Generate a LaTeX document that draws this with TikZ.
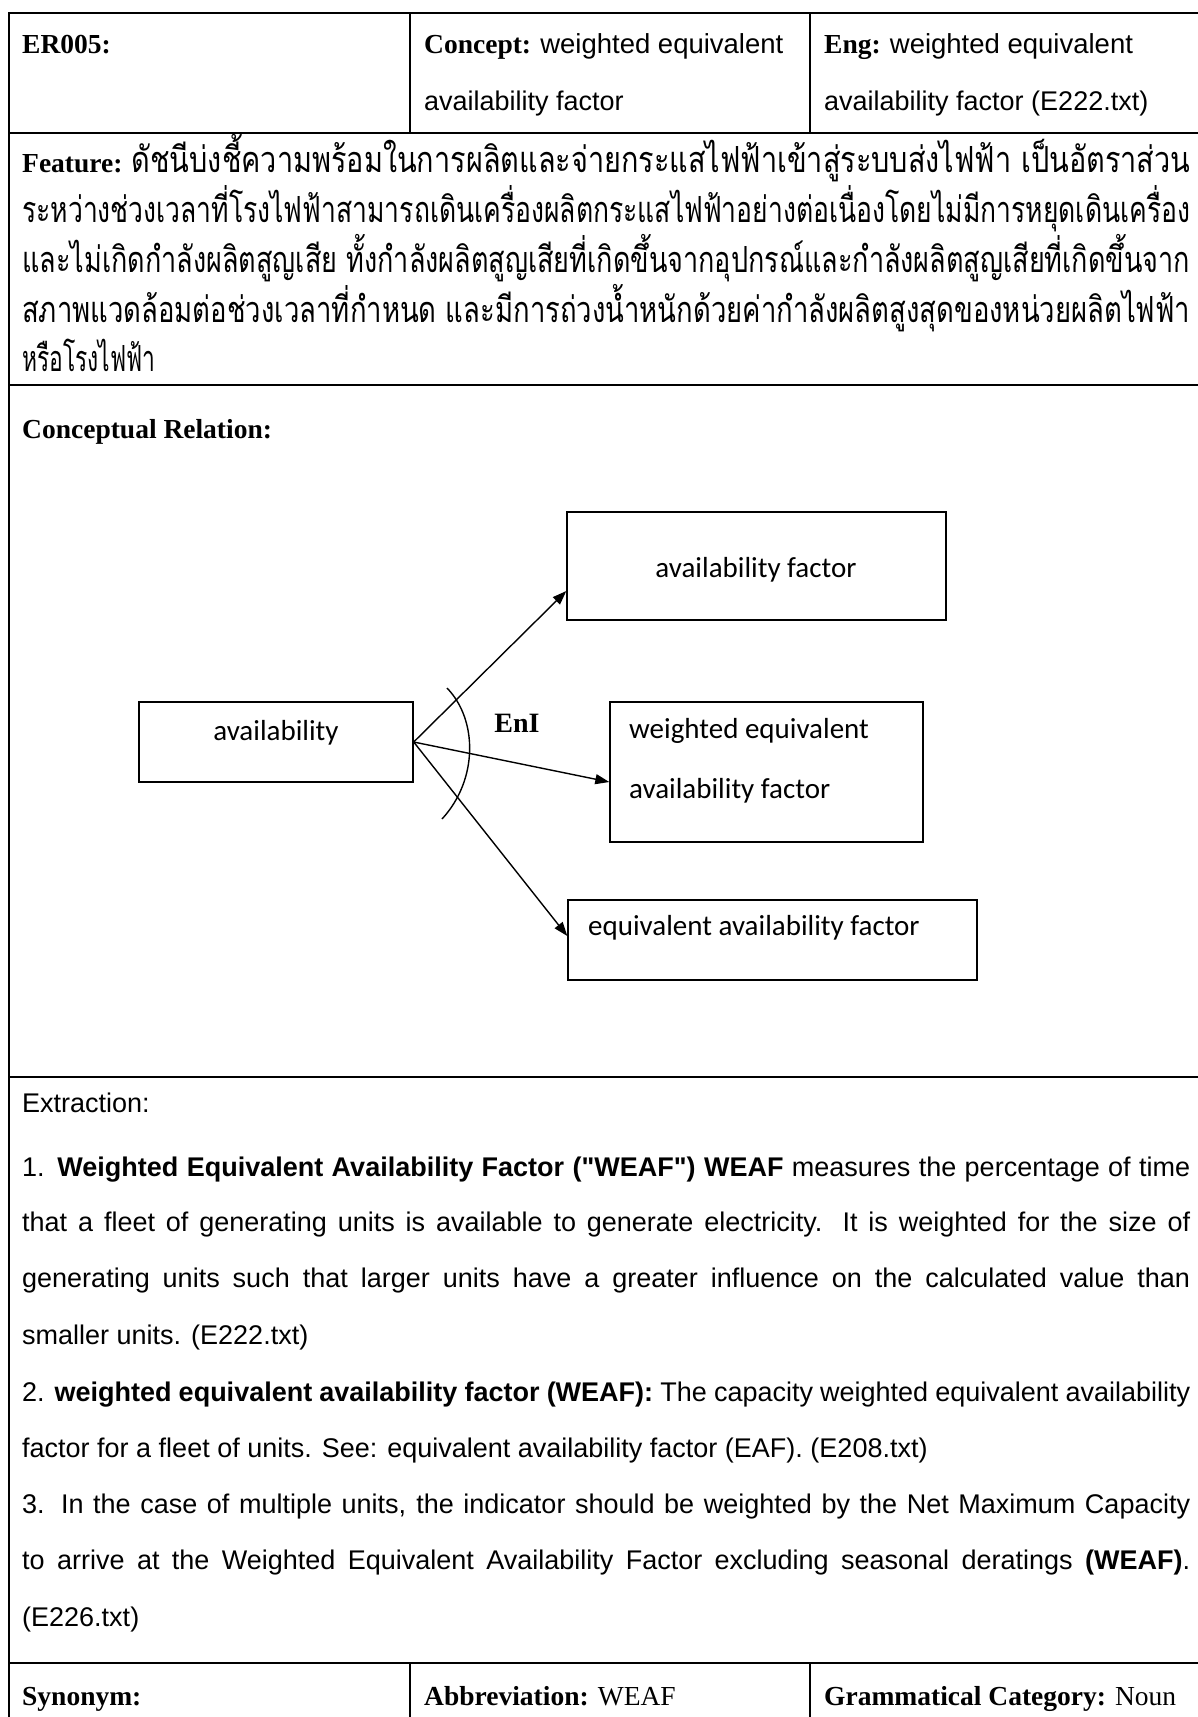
\documentclass[tikz,border=0pt]{standalone}
\usepackage{fontspec}
\usepackage{graphicx}
\setmainfont{Liberation Serif}
\setsansfont{Liberation Sans}
\newfontfamily\sfplain{Liberation Sans}
\newfontfamily\thaifont[Script=Thai]{Loma}
\newfontfamily\boxfont{Carlito}
\usetikzlibrary{arrows.meta}

% stretch or squeeze #3 horizontally so that prefix #2 plus #3 is #1 pt wide
\newlength\fitw
\newlength\prew
\newcommand\fitline[3]{%
  \settowidth\prew{#2}%
  \settowidth\fitw{#3}%
  \pgfmathsetmacro\fitratio{(#1-\prew)/\fitw}%
  #2\scalebox{\fitratio}[1]{#3}}
% straight double quote (no TeX ligature mapping)
\newcommand\dq{{\sfplain\char34}}

\begin{document}
\begin{tikzpicture}[x=1pt,y=-1pt,
  rule/.style={line width=1.8pt},
  vrule/.style={line width=1.5pt},
  lbl/.style={anchor=base west, inner sep=0pt, font=\fontsize{27.5}{30}\selectfont},
  txt/.style={anchor=base west, inner sep=0pt, font=\fontsize{27}{30}\sffamily},
  thai/.style={anchor=base west, inner sep=0pt, font=\fontsize{36}{40}\thaifont},
  concept/.style={draw, line width=1.4pt, inner sep=0pt},
  ctext/.style={inner sep=0pt, font=\fontsize{29}{32}\boxfont},
  link/.style={line width=1.4pt, -{Triangle[length=14pt,width=10pt]}}
]
\useasboundingbox (0,0) rectangle (1198,1717);
\fill[white] (0,0) rectangle (1198,1717);

% ---- table rules ----
\draw[rule] (9,13) -- (1198,13);
\draw[rule] (9,133) -- (1198,133);
\draw[rule] (9,385) -- (1198,385);
\draw[rule] (9,1077) -- (1198,1077);
\draw[rule] (9,1663) -- (1198,1663);
\draw[rule] (9,12) -- (9,1717);
\draw[vrule] (410,13) -- (410,133);
\draw[vrule] (810,13) -- (810,133);
\draw[vrule] (410,1663) -- (410,1717);
\draw[vrule] (810,1663) -- (810,1717);

% ---- header row ----
\node[lbl] (er) at (22,53) {\textbf{ER005:}};
\node[lbl] (concept) at (424,53) {\textbf{Concept:} \sffamily weighted equivalent};
\node[txt] (concept2) at (424,110) {availability factor};
\node[lbl] (eng) at (824,53) {\textbf{Eng:} \sffamily weighted equivalent};
\node[txt] (eng2) at (824,110) {availability factor (E222.txt)};

% ---- feature ----
\node[thai] (f1) at (22,172) {\fitline{1168}{{\fontsize{27.5}{30}\rmfamily\bfseries Feature: }}{ดัชนีบ่งชี้ความพร้อมในการผลิตและจ่ายกระแสไฟฟ้าเข้าสู่ระบบส่งไฟฟ้า เป็นอัตราส่วน}};
\node[thai] (f2) at (22,222) {\fitline{1168}{}{ระหว่างช่วงเวลาที่โรงไฟฟ้าสามารถเดินเครื่องผลิตกระแสไฟฟ้าอย่างต่อเนื่องโดยไม่มีการหยุดเดินเครื่อง}};
\node[thai] (f3) at (22,272) {\fitline{1168}{}{และไม่เกิดกำลังผลิตสูญเสีย ทั้งกำลังผลิตสูญเสียที่เกิดขึ้นจากอุปกรณ์และกำลังผลิตสูญเสียที่เกิดขึ้นจาก}};
\node[thai] (f4) at (22,322) {\fitline{1168}{}{สภาพแวดล้อมต่อช่วงเวลาที่กำหนด และมีการถ่วงน้ำหนักด้วยค่ากำลังผลิตสูงสุดของหน่วยผลิตไฟฟ้า}};
\node[thai] (f5) at (22,371) {\fitline{133}{}{หรือโรงไฟฟ้า}};

% ---- conceptual relation ----
\node[lbl] (cr) at (22,438) {\textbf{Conceptual Relation:}};

\node[concept, minimum width=379pt, minimum height=108pt] (af) at (756.5,566) {};
\node[concept, minimum width=274pt, minimum height=80pt] (avail) at (276,742) {};
\node[concept, minimum width=313pt, minimum height=140pt] (weaf) at (766.5,772) {};
\node[concept, minimum width=409pt, minimum height=80pt] (eaf) at (772.5,940) {};

\node[ctext, anchor=base] (aft) at (756,577) {availability factor};
\node[ctext, anchor=base] (availt) at (276,740) {availability};
\node[ctext, anchor=base west] (weaft1) at (629,738) {weighted equivalent};
\node[ctext, anchor=base west] (weaft2) at (629,798) {availability factor};
\node[ctext, anchor=base west] (eaft) at (588,935) {equivalent availability factor};

\draw[link] (avail.east) -- ([yshift=-25pt]af.west);
\draw[link] (avail.east) -- ([yshift=-10pt]weaf.west);
\draw[link] (avail.east) -- ([yshift=4pt]eaf.west);
\draw[line width=1.4pt] (447,688) .. controls (478,720) and (478,780) .. (442,819);
\node[anchor=base, inner sep=0pt, font=\fontsize{28}{30}\selectfont\bfseries] (eni) at (517,732) {EnI};

% ---- extraction ----
\node[txt] (ex) at (22,1112) {Extraction:};
\node[txt] (e1) at (22,1176) {\makebox[1168pt][s]{1. \textbf{Weighted Equivalent Availability Factor (\dq WEAF\dq) WEAF} measures the percentage of time}};
\node[txt] (e2) at (22,1231) {\makebox[1168pt][s]{that a fleet of generating units is available to generate electricity. It is weighted for the size of}};
\node[txt] (e3) at (22,1287) {\makebox[1168pt][s]{generating units such that larger units have a greater influence on the calculated value than}};
\node[txt] (e4) at (22,1344) {smaller units. (E222.txt)};
\node[txt] (e5) at (22,1401) {\makebox[1168pt][s]{2. \textbf{weighted equivalent availability factor (WEAF):} The capacity weighted equivalent availability}};
\node[txt] (e6) at (22,1457) {factor for a fleet of units. See: equivalent availability factor (EAF). (E208.txt)};
\node[txt] (e7) at (22,1513) {\makebox[1168pt][s]{3. In the case of multiple units, the indicator should be weighted by the Net Maximum Capacity}};
\node[txt] (e8) at (22,1569) {\makebox[1168pt][s]{to arrive at the Weighted Equivalent Availability Factor excluding seasonal deratings \textbf{(WEAF)}.}};
\node[txt] (e9) at (22,1626) {(E226.txt)};

% ---- bottom row ----
\node[lbl] (syn) at (22,1705) {\textbf{Synonym:}};
\node[lbl] (abbr) at (424,1705) {\textbf{Abbreviation:} WEAF};
\node[lbl] (gram) at (824,1705) {\textbf{Grammatical Category:} Noun};
\end{tikzpicture}
\end{document}
